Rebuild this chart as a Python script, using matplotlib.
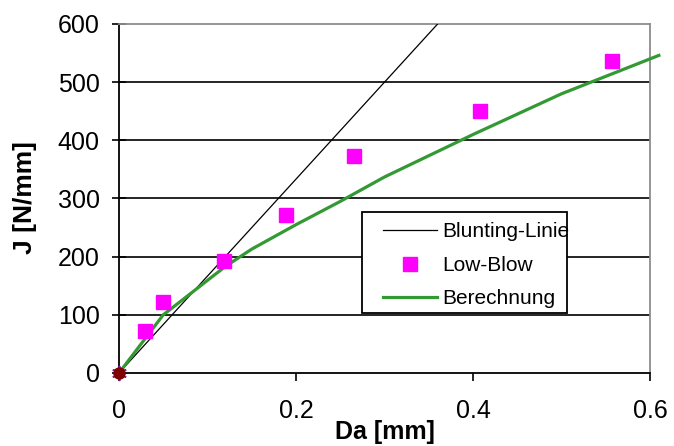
import matplotlib
matplotlib.use('Agg')
import matplotlib.pyplot as plt
from matplotlib.patches import Rectangle

# ---- data ----
blunt_x = [0.0, 0.36]
blunt_y = [0, 600]
lowblow_x = [0.029, 0.050, 0.119, 0.189, 0.266, 0.408, 0.557]
lowblow_y = [72, 122, 192, 271, 373, 450, 536]
calc_x = [0.0, 0.05, 0.12, 0.15, 0.20, 0.25, 0.30, 0.40, 0.50, 0.61]
calc_y = [0, 100, 183, 213, 255, 295, 337, 410, 480, 546]
origin_x = [0.0]
origin_y = [0]
xticks = [0, 0.2, 0.4, 0.6]
xticklabels = ['0', '0.2', '0.4', '0.6']
yticks = [0, 100, 200, 300, 400, 500, 600]
yticklabels = ['0', '100', '200', '300', '400', '500', '600']
series_names = ['Blunting-Linie', 'Low-Blow', 'Berechnung']

plt.rcParams['font.family'] = ['Liberation Sans', 'DejaVu Sans']

fig = plt.figure(figsize=(6.74, 4.46), dpi=100)
ax = fig.add_axes([119/674, 1-373/446, 531/674, 349/446])

ax.set_xlim(0, 0.6)
ax.set_ylim(0, 600)

# grid
for yv in yticks[1:-1]:
    ax.axhline(yv, color='black', lw=1.2, zorder=1)

l1, = ax.plot(blunt_x, blunt_y, color='black', lw=0.9, zorder=3, label=series_names[0])
l2, = ax.plot(lowblow_x, lowblow_y, ls='none', marker='s', ms=10, color='#FF00FF',
              mec='#FF00FF', zorder=4, label=series_names[1])
l3, = ax.plot(calc_x, calc_y, color='#339933', lw=2.3, zorder=3, clip_on=False,
              label=series_names[2])
ax.plot(origin_x, origin_y, ls='none', marker=(6, 2, 0), ms=11, mew=1.2,
        color='#7a1fa0', clip_on=False, zorder=5)
ax.plot(origin_x, origin_y, ls='none', marker='o', ms=8, color='#800000',
        clip_on=False, zorder=6)

ax.set_xticks(xticks)
ax.set_xticklabels(xticklabels)
ax.set_yticks(yticks)
ax.set_yticklabels(yticklabels)
ax.tick_params(axis='y', direction='inout', length=10, width=1.2, pad=9, labelsize=18)
ax.tick_params(axis='x', direction='out', length=6, width=1.2, pad=13, labelsize=18)

for s in ['left', 'bottom']:
    ax.spines[s].set_color('black')
    ax.spines[s].set_linewidth(1.3)
for s in ['top', 'right']:
    ax.spines[s].set_color('#8c8c8c')
    ax.spines[s].set_linewidth(1.3)

# legend frame
ax.add_patch(Rectangle((0.458, 0.172), 0.386, 0.289, transform=ax.transAxes,
                       facecolor='white', edgecolor='black', lw=1.3, zorder=7))
leg = ax.legend(handles=[l1, l2, l3], loc='upper left',
                bbox_to_anchor=(0.497, 0.432), frameon=False, borderpad=0,
                borderaxespad=0, fontsize=15, handlelength=2.6,
                handletextpad=0.25, labelspacing=0.7)
leg.set_zorder(8)

fig.text(385/674, 1-432/446, 'Da [mm]', ha='center', va='center',
         fontsize=18, fontweight='bold')
fig.text(25/674, 1-198/446, 'J [N/mm]', ha='center', va='center',
         fontsize=19, fontweight='bold', rotation=90)

fig.savefig('out.png', dpi=100)
